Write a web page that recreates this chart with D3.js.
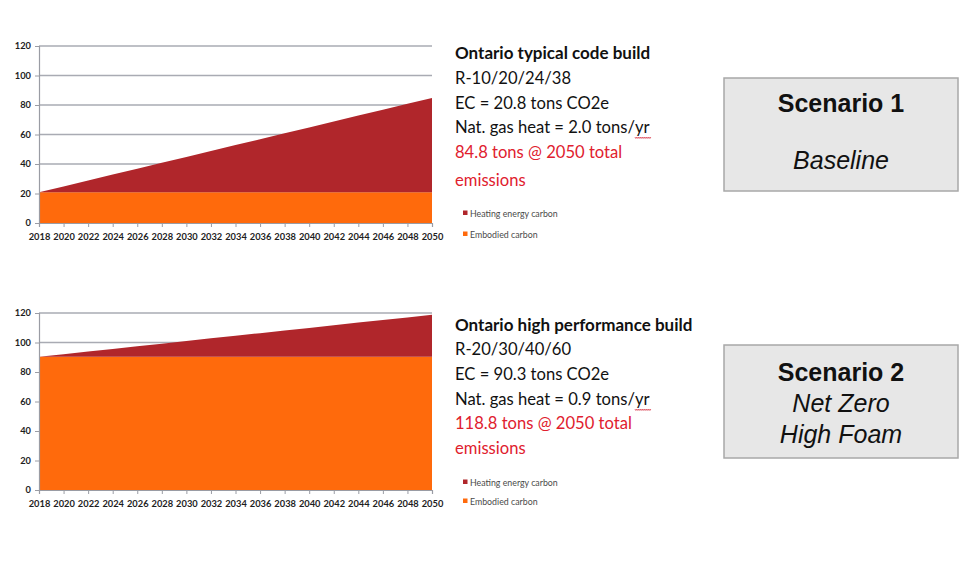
<!DOCTYPE html>
<html>
<head>
<meta charset="utf-8">
<script src="https://cdn.jsdelivr.net/npm/d3@7"></script>
<style>
  html, body { margin: 0; padding: 0; background: #ffffff; }
  svg { display: block; }
</style>
</head>
<body>
<svg id="chart" width="974" height="565"></svg>
<script>
// ---------- DATA ----------
const years = [2018, 2020, 2022, 2024, 2026, 2028, 2030, 2032, 2034, 2036, 2038, 2040, 2042, 2044, 2046, 2048, 2050];
const yTicks = [0, 20, 40, 60, 80, 100, 120];
const seriesNames = ["Heating energy carbon", "Embodied carbon"];

const s1Embodied = [20.8, 20.8, 20.8, 20.8, 20.8, 20.8, 20.8, 20.8, 20.8, 20.8, 20.8, 20.8, 20.8, 20.8, 20.8, 20.8, 20.8];
const s1Heating  = [0, 4, 8, 12, 16, 20, 24, 28, 32, 36, 40, 44, 48, 52, 56, 60, 64];

const s2Embodied = [90.3, 90.3, 90.3, 90.3, 90.3, 90.3, 90.3, 90.3, 90.3, 90.3, 90.3, 90.3, 90.3, 90.3, 90.3, 90.3, 90.3];
const s2Heating  = [0, 1.8, 3.6, 5.3, 7.1, 8.9, 10.7, 12.5, 14.3, 16.0, 17.8, 19.6, 21.4, 23.2, 24.9, 26.7, 28.5];

const s1Text = ["Ontario typical code build", "R-10/20/24/38", "EC = 20.8 tons CO2e", "Nat. gas heat = 2.0 tons/", "84.8 tons @ 2050 total", "emissions"];
const s2Text = ["Ontario high performance build", "R-20/30/40/60", "EC = 90.3 tons CO2e", "Nat. gas heat = 0.9 tons/", "118.8 tons @ 2050 total", "emissions"];
const s1Box = ["Scenario 1", "", "Baseline"];
const s2Box = ["Scenario 2", "Net Zero", "High Foam"];

// ---------- STYLE ----------
const colHeat = "#b0262b";
const colEmb = "#ff6a0c";
const colRed = "#e0202e";
const svg = d3.select("#chart");

function drawChart(cfg) {
  const x = d3.scaleLinear().domain([2018, 2050]).range([39, 432]);
  const y = d3.scaleLinear().domain([0, 120]).range([cfg.y0, cfg.y120]);
  const g = svg.append("g");

  // gridlines
  g.selectAll("line.grid").data(yTicks.filter(d => d > 0)).join("line")
    .attr("x1", x(2018)).attr("x2", x(2050))
    .attr("y1", d => y(d)).attr("y2", d => y(d))
    .attr("stroke", "#a9abb3").attr("stroke-width", 1.3);

  const rows = years.map((yr, i) => ({ year: yr, emb: cfg.emb[i], heat: cfg.heat[i] }));
  const stack = d3.stack().keys(["emb", "heat"])(rows);
  const area = d3.area()
    .x(d => x(d.data.year))
    .y0(d => y(d[0]))
    .y1(d => y(d[1]));
  g.selectAll("path.area").data(stack).join("path")
    .attr("d", area)
    .attr("fill", d => d.key === "emb" ? colEmb : colHeat);

  // axes
  const yAxis = d3.axisLeft(y).tickValues(yTicks).tickSize(4).tickPadding(4);
  const ga = g.append("g").attr("transform", `translate(${x(2018)},0)`).call(yAxis);
  const xAxis = d3.axisBottom(x).tickValues(years).tickFormat(d3.format("d")).tickSize(4).tickPadding(6);
  const gx = g.append("g").attr("transform", `translate(0,${cfg.y0})`).call(xAxis);
  [ga, gx].forEach(a => {
    a.select(".domain").attr("stroke", "#9a9ca4").attr("stroke-width", 1.2);
    a.selectAll(".tick line").attr("stroke", "#9a9ca4");
    a.selectAll("text").attr("fill", "#1e1e1e").style("font-family", "Lato").style("font-weight", 700).style("font-size", "9.3px");
  });

  // text block
  const tx = 455;
  const t = svg.append("g").style("font-family", "Lato");
  cfg.lines.forEach((s, i) => {
    const yy = cfg.textY[i];
    const el = t.append("text").attr("x", tx).attr("y", yy)
      .style("font-size", i === 0 ? "17px" : "16.6px")
      .style("font-weight", i === 0 ? 700 : 400)
      .attr("fill", i >= 4 ? colRed : "#111")
      .text(s);
    if (i === 3) {
      const ts = el.append("tspan").text("yr");
      const w = el.node().getComputedTextLength();
      const wy = ts.node().getComputedTextLength();
      const x0 = tx + w - wy, x1 = tx + w;
      let p = `M${x0},${yy + 4}`;
      for (let xx = x0; xx < x1; xx += 2) p += ` L${xx + 1},${yy + 5.5} L${xx + 2},${yy + 4}`;
      t.append("path").attr("d", p).attr("fill", "none").attr("stroke", "#d84050").attr("stroke-width", 0.8);
    }
  });

  // legend
  const lg = svg.append("g");
  seriesNames.forEach((n, i) => {
    const ly = cfg.legendY[i];
    lg.append("rect").attr("x", 463).attr("y", ly - 3.5).attr("width", 4.5).attr("height", 4.5)
      .attr("fill", i === 0 ? colHeat : colEmb);
    lg.append("text").attr("x", 470).attr("y", ly + 2.5)
      .style("font-family", "Lato").style("font-size", "8.8px").attr("fill", "#4a4a4a").text(n);
  });

  // scenario box
  const bx = 724, bw = 234;
  const b = svg.append("g");
  b.append("rect").attr("x", bx).attr("y", cfg.box[0]).attr("width", bw).attr("height", cfg.box[1] - cfg.box[0])
    .attr("fill", "#e7e7e7").attr("stroke", "#a8a8a8").attr("stroke-width", 1.5);
  cfg.boxText.forEach((s, i) => {
    if (!s) return;
    b.append("text").attr("x", bx + bw / 2).attr("y", cfg.boxY[i])
      .attr("text-anchor", "middle").attr("dominant-baseline", "central")
      .style("font-family", "Liberation Sans, Arial, sans-serif").style("font-size", "25px")
      .style("font-weight", i === 0 ? 700 : 400).style("font-style", i === 0 ? "normal" : "italic")
      .attr("fill", "#111").text(s);
  });
}

drawChart({
  y0: 223, y120: 46, emb: s1Embodied, heat: s1Heating, lines: s1Text,
  textY: [59, 84, 109, 133, 158, 186], legendY: [214, 235],
  box: [78, 191], boxText: s1Box, boxY: [103, 0, 160]
});
drawChart({
  y0: 490, y120: 313, emb: s2Embodied, heat: s2Heating, lines: s2Text,
  textY: [331, 355, 380, 405, 429, 454], legendY: [483, 502],
  box: [345, 458], boxText: s2Box, boxY: [372, 403, 434]
});
</script>
</body>
</html>
